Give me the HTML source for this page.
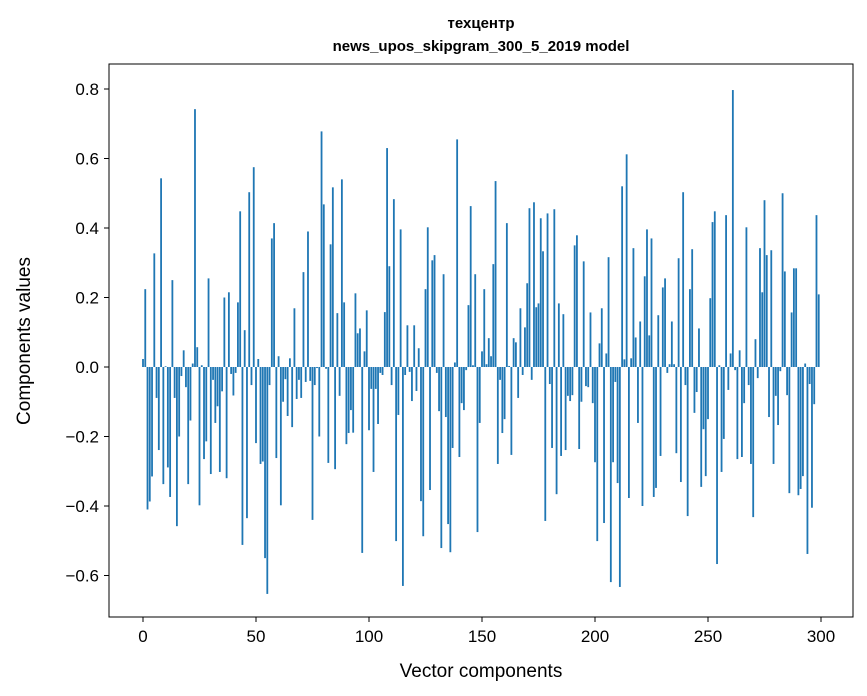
<!DOCTYPE html>
<html><head><meta charset="utf-8"><style>
html,body{margin:0;padding:0;background:#fff;}
svg{display:block;font-family:"Liberation Sans","DejaVu Sans",sans-serif;}
</style></head><body>
<svg id="chart" width="867" height="696" viewBox="0 0 867 696" xmlns="http://www.w3.org/2000/svg">
<rect x="0" y="0" width="867" height="696" fill="#fff"/>
<text x="481" y="28" text-anchor="middle" font-size="15" font-weight="bold">техцентр</text>
<text x="481" y="51" text-anchor="middle" font-size="15" font-weight="bold">news_upos_skipgram_300_5_2019 model</text>
<g id="bars"></g>
<rect x="109" y="64" width="744" height="553" fill="none" stroke="#000" stroke-width="1"/>
<g id="xticks"></g>
<g id="yticks"></g>
<text x="481" y="677" text-anchor="middle" font-size="19">Vector components</text>
<text transform="translate(30,341) rotate(-90)" text-anchor="middle" font-size="19">Components values</text>
</svg>
<script>
const values = [
0.023,0.224,-0.41,-0.387,-0.315,0.327,-0.089,-0.239,0.543,-0.337,
0.002,-0.289,-0.374,0.25,-0.089,-0.458,-0.2,-0.026,0.048,-0.058,
-0.337,-0.154,0.01,0.742,0.057,-0.398,0.005,-0.265,-0.214,0.255,
-0.308,-0.037,-0.161,-0.113,-0.302,-0.07,0.2,-0.32,0.215,-0.02,
-0.082,-0.017,0.186,0.448,-0.512,0.106,-0.435,0.503,-0.052,0.575,
-0.219,0.023,-0.279,-0.272,-0.55,-0.653,-0.052,0.37,0.414,-0.262,
0.031,-0.398,-0.1,-0.035,-0.141,0.025,-0.173,0.169,-0.092,-0.037,
-0.089,0.273,-0.043,0.39,-0.04,-0.44,-0.052,-0.003,-0.2,0.678,
0.468,-0.005,-0.276,0.353,0.517,-0.294,0.155,-0.083,0.54,0.186,
-0.222,-0.19,-0.124,-0.189,0.212,0.097,0.111,-0.535,0.045,0.163,
-0.182,-0.063,-0.302,-0.063,-0.164,-0.017,-0.023,0.158,0.63,0.29,
-0.052,0.483,-0.501,-0.138,0.396,-0.63,-0.023,0.12,-0.014,-0.098,
0.12,-0.069,0.054,-0.386,-0.487,0.224,0.402,-0.354,0.307,0.322,
-0.017,-0.127,-0.521,0.267,-0.144,-0.452,-0.533,-0.233,0.013,0.655,
-0.259,-0.104,-0.124,-0.009,0.178,0.463,0.005,0.267,-0.475,-0.161,
0.045,0.224,0.008,0.083,0.031,0.296,0.535,-0.279,-0.037,-0.19,
-0.15,0.414,0.003,-0.253,0.083,0.071,-0.089,0.169,-0.023,0.114,
0.241,0.457,-0.037,0.474,0.172,0.183,0.428,0.333,-0.443,0.442,
-0.049,-0.233,0.454,-0.366,0.183,-0.256,0.152,-0.239,-0.083,-0.098,
-0.081,0.35,0.379,-0.236,-0.1,0.304,-0.055,-0.058,0.157,-0.104,
-0.274,-0.501,0.068,0.169,-0.449,0.039,0.316,-0.619,-0.274,-0.043,
-0.334,-0.633,0.52,0.022,0.612,-0.377,0.025,0.342,0.085,-0.161,
0.131,-0.4,0.261,0.396,0.091,0.37,-0.374,-0.348,0.149,-0.256,
0.229,0.255,-0.017,0.008,0.131,0.008,-0.248,0.313,-0.331,0.503,
-0.052,-0.429,0.224,0.339,-0.132,-0.072,0.111,-0.345,-0.179,-0.314,
-0.15,0.198,0.417,0.448,-0.567,0.005,-0.302,-0.207,0.437,-0.066,
0.039,0.797,-0.009,-0.265,0.048,-0.259,-0.104,0.402,-0.052,-0.279,
-0.432,0.08,-0.032,0.342,0.215,0.48,0.322,-0.144,0.336,-0.279,
-0.083,-0.167,-0.012,0.5,0.275,-0.081,-0.363,0.157,0.284,0.284,
-0.369,-0.351,-0.314,0.01,-0.538,-0.049,-0.405,-0.107,0.437,0.209
];
const xTickValues = [0,50,100,150,200,250,300];
const yTickValues = [-0.6,-0.4,-0.2,0.0,0.2,0.4,0.6,0.8];
const yTickLabels = ["\u22120.6","\u22120.4","\u22120.2","0.0","0.2","0.4","0.6","0.8"];

const NS = "http://www.w3.org/2000/svg";
function xScale(v){ return 143 + v * 2.26; }
function yScale(v){ return 367 - v * 347.5; }

const barsG = document.getElementById('bars');
values.forEach(function(v, i){
  const r = document.createElementNS(NS, 'rect');
  const x0 = xScale(i - 0.4), x1 = xScale(i + 0.4);
  const y0 = yScale(Math.max(v, 0)), y1 = yScale(Math.min(v, 0));
  r.setAttribute('x', x0);
  r.setAttribute('y', y0);
  r.setAttribute('width', x1 - x0);
  r.setAttribute('height', Math.max(y1 - y0, 0.01));
  r.setAttribute('fill', '#1f77b4');
  
  
  barsG.appendChild(r);
});

const xg = document.getElementById('xticks');
xTickValues.forEach(function(t){
  const x = xScale(t);
  const l = document.createElementNS(NS, 'line');
  l.setAttribute('x1', x); l.setAttribute('x2', x);
  l.setAttribute('y1', 617); l.setAttribute('y2', 622);
  l.setAttribute('stroke', '#000');
  
  
  xg.appendChild(l);
  const tx = document.createElementNS(NS, 'text');
  tx.setAttribute('x', x); tx.setAttribute('y', 642);
  tx.setAttribute('text-anchor', 'middle');
  tx.setAttribute('font-size', '17');
  tx.textContent = String(t);
  
  
  xg.appendChild(tx);
});

const yg = document.getElementById('yticks');
yTickValues.forEach(function(t, i){
  const y = yScale(t);
  const l = document.createElementNS(NS, 'line');
  l.setAttribute('x1', 104); l.setAttribute('x2', 109);
  l.setAttribute('y1', y); l.setAttribute('y2', y);
  l.setAttribute('stroke', '#000');
  
  
  yg.appendChild(l);
  const tx = document.createElementNS(NS, 'text');
  tx.setAttribute('x', 99); tx.setAttribute('y', y + 6);
  tx.setAttribute('text-anchor', 'end');
  tx.setAttribute('font-size', '17');
  tx.textContent = yTickLabels[i];
  
  
  yg.appendChild(tx);
});
</script>
</body></html>
